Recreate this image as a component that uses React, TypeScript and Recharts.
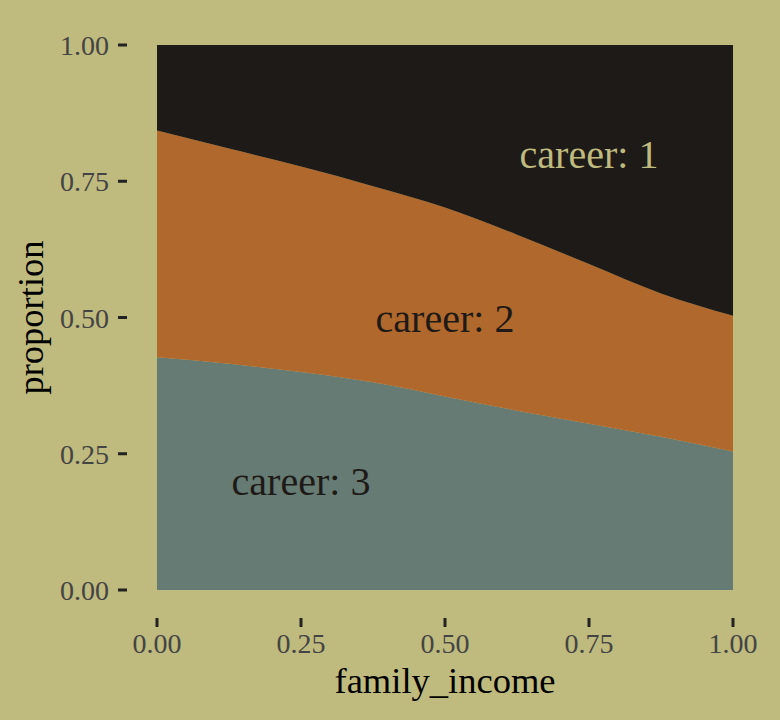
import React from "react";
import { AreaChart, Area, XAxis, YAxis, ReferenceDot, Label } from "recharts";

const familyIncome = [0, 0.125, 0.25, 0.375, 0.5, 0.625, 0.75, 0.875, 1];
const career3 = [0.427, 0.415, 0.4, 0.381, 0.355, 0.329, 0.305, 0.281, 0.254];
const career2 = [0.416, 0.395, 0.377, 0.36, 0.347, 0.323, 0.293, 0.263, 0.249];
const career1 = [0.157, 0.19, 0.223, 0.259, 0.298, 0.348, 0.402, 0.456, 0.497];
const tickValues = [0, 0.25, 0.5, 0.75, 1];
const annotations = [
  { text: "career: 1", x: 0.75, y: 0.8, color: "#bfba7e" },
  { text: "career: 2", x: 0.5, y: 0.5, color: "#1e1a18" },
  { text: "career: 3", x: 0.25, y: 0.2, color: "#1e1a18" },
];

const data = familyIncome.map((x, i) => ({
  x,
  c3: career3[i],
  c2: career2[i],
  c1: career1[i],
}));

const BG = "#bfba7e";
const FONT = "'Liberation Serif', 'Times New Roman', serif";

const YTick = (props: any) => {
  const { x, y, payload } = props;
  return (
    <g>
      <line x1={x - 39} x2={x - 30} y1={y} y2={y} stroke="#222" strokeWidth={3} />
      <text x={x - 48} y={y + 10} textAnchor="end" fontSize={28} fontFamily={FONT} fill="#444">
        {Number(payload.value).toFixed(2)}
      </text>
    </g>
  );
};

const XTick = (props: any) => {
  const { x, y, payload } = props;
  return (
    <g>
      <line x1={x} x2={x} y1={y + 28} y2={y + 37} stroke="#222" strokeWidth={3} />
      <text x={x} y={y + 63} textAnchor="middle" fontSize={28} fontFamily={FONT} fill="#444">
        {Number(payload.value).toFixed(2)}
      </text>
    </g>
  );
};

const XTitle = (props: any) => {
  const vb = props.viewBox || { x: 157, y: 590, width: 576, height: 130 };
  return (
    <text x={vb.x + vb.width / 2} y={vb.y + 103} textAnchor="middle" fontSize={36.5} fontFamily={FONT} fill="#000">
      family_income
    </text>
  );
};

const YTitle = (props: any) => {
  const vb = props.viewBox || { x: 0, y: 45, width: 157, height: 545 };
  const cx = 43;
  const cy = vb.y + vb.height / 2;
  return (
    <text
      x={cx}
      y={cy}
      transform={`rotate(-90, ${cx}, ${cy})`}
      textAnchor="middle"
      fontSize={36.5}
      fontFamily={FONT}
      fill="#000"
    >
      proportion
    </text>
  );
};

const makeAnno = (text: string, color: string) => (props: any) => {
  const vb = props.viewBox || { x: 0, y: 0, width: 0, height: 0 };
  const cx = vb.x + (vb.width || 0) / 2;
  const cy = vb.y + (vb.height || 0) / 2;
  return (
    <text x={cx} y={cy + 14} textAnchor="middle" fontSize={40} fontFamily={FONT} fill={color}>
      {text}
    </text>
  );
};

export default function App() {
  return (
    <div style={{ position: "absolute", left: 0, top: 0, width: 780, height: 720, background: BG }}>
      <AreaChart
        width={780}
        height={720}
        data={data}
        margin={{ top: 45, right: 47, bottom: 0, left: 0 }}
      >
        <XAxis
          dataKey="x"
          type="number"
          domain={[0, 1]}
          ticks={tickValues}
          axisLine={false}
          tickLine={false}
          tickSize={0}
          tickMargin={0}
          height={130}
          tick={<XTick />}
          interval={0}
        >
          <Label content={<XTitle />} />
        </XAxis>
        <YAxis
          type="number"
          domain={[0, 1]}
          ticks={tickValues}
          axisLine={false}
          tickLine={false}
          tickSize={0}
          tickMargin={0}
          width={157}
          tick={<YTick />}
          interval={0}
        >
          <Label content={<YTitle />} />
        </YAxis>
        <Area type="monotone" dataKey="c3" stackId="s" stroke="none" fill="#667b73" fillOpacity={1} isAnimationActive={false} />
        <Area type="monotone" dataKey="c2" stackId="s" stroke="none" fill="#b1682c" fillOpacity={1} isAnimationActive={false} />
        <Area type="monotone" dataKey="c1" stackId="s" stroke="none" fill="#1e1a18" fillOpacity={1} isAnimationActive={false} />
        {annotations.map((a) => (
          <ReferenceDot
            key={a.text}
            x={a.x}
            y={a.y}
            r={0}
            fill="none"
            stroke="none"
            ifOverflow="visible"
            label={{ content: makeAnno(a.text, a.color) }}
          />
        ))}
      </AreaChart>
    </div>
  );
}
